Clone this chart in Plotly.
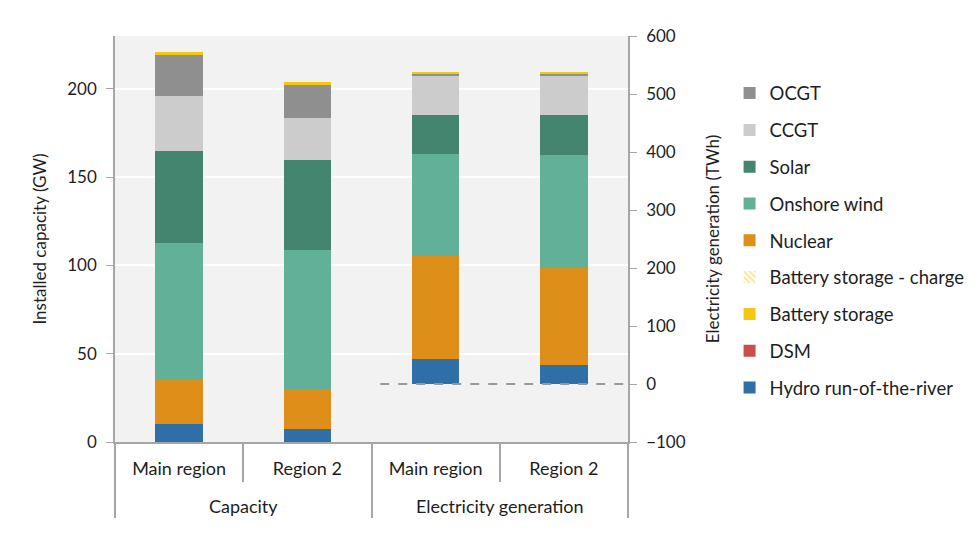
import plotly.graph_objects as go

regions = ["Main region", "Region 2"]
groups = ["Capacity", "Electricity generation"]

# stacking order (bottom to top)
stack_order = ["Hydro run-of-the-river", "DSM", "Nuclear", "Onshore wind",
               "Solar", "CCGT", "OCGT", "Battery storage"]
# legend order (top to bottom)
legend_order = ["OCGT", "CCGT", "Solar", "Onshore wind", "Nuclear",
                "Battery storage - charge", "Battery storage", "DSM",
                "Hydro run-of-the-river"]
colors = {
    "Hydro run-of-the-river": "#2e6fa7",
    "DSM": "#c9504a",
    "Battery storage": "#f2c811",
    "Battery storage - charge": "#f2c811",
    "Nuclear": "#de8f19",
    "Onshore wind": "#62b097",
    "Solar": "#43856f",
    "CCGT": "#cccccc",
    "OCGT": "#8f8f8f",
}

# Installed capacity (GW) per region
capacity_hydro = [10, 7.5]
capacity_dsm = [0, 0]
capacity_battery = [1.3, 1.5]
capacity_nuclear = [25, 22]
capacity_wind = [78, 79]
capacity_solar = [52, 51]
capacity_ccgt = [31, 24]
capacity_ocgt = [23.5, 19]

# Electricity generation (TWh) per region
generation_hydro = [43, 32]
generation_dsm = [0, 0]
generation_battery = [1.5, 1.5]
generation_battery_charge = [-1.5, -1.5]
generation_nuclear = [178, 168]
generation_wind = [176, 195]
generation_solar = [66, 68]
generation_ccgt = [68, 68]
generation_ocgt = [5, 5]

capacity = {
    "Hydro run-of-the-river": capacity_hydro, "DSM": capacity_dsm,
    "Battery storage": capacity_battery, "Nuclear": capacity_nuclear,
    "Onshore wind": capacity_wind, "Solar": capacity_solar,
    "CCGT": capacity_ccgt, "OCGT": capacity_ocgt,
}
generation = {
    "Hydro run-of-the-river": generation_hydro, "DSM": generation_dsm,
    "Battery storage": generation_battery, "Nuclear": generation_nuclear,
    "Onshore wind": generation_wind, "Solar": generation_solar,
    "CCGT": generation_ccgt, "OCGT": generation_ocgt,
}

FONT = "Lato"
TXT = "#1e1e1e"
BAR_W = 0.37

fig = go.Figure()
# the top-level group label sits on a second line (extra space below the region row)
x_cap = [["<br>" + groups[0]] * 2, regions]
x_gen = [["<br>" + groups[1]] * 2, regions]

for tech in stack_order:
    fig.add_trace(go.Bar(x=x_cap, y=capacity[tech], name=tech, width=BAR_W,
                         marker=dict(color=colors[tech], line=dict(width=0)),
                         showlegend=False, yaxis="y"))

for tech in stack_order:
    fig.add_trace(go.Bar(x=x_gen, y=generation[tech], name=tech, width=BAR_W,
                         marker=dict(color=colors[tech], line=dict(width=0)),
                         legendgroup=tech, legendrank=legend_order.index(tech) + 1,
                         showlegend=True, yaxis="y2"))

tech = "Battery storage - charge"
fig.add_trace(go.Bar(x=x_gen, y=generation_battery_charge, name=tech, width=BAR_W,
                     marker=dict(color="rgba(0,0,0,0)", line=dict(width=0),
                                 pattern=dict(shape="\\", fgcolor=colors[tech],
                                              bgcolor="rgba(255,255,255,0)",
                                              size=5, solidity=0.4)),
                     legendgroup=tech, legendrank=legend_order.index(tech) + 1,
                     showlegend=True, yaxis="y2"))

fig.add_shape(type="line", xref="paper", yref="y2", x0=0.517, x1=1, y0=0, y1=0,
              line=dict(color="#999999", width=2, dash="dash"), layer="above")

axis_grey = "#a6a6a6"
fig.update_layout(
    width=978, height=533,
    barmode="stack",
    paper_bgcolor="white",
    plot_bgcolor="#f2f2f2",
    margin=dict(l=107, r=358, t=28, b=99),
    font=dict(family=FONT, size=17, color=TXT),
    xaxis=dict(type="multicategory", showline=True, linecolor=axis_grey, linewidth=1.5,
               ticks="outside", ticklen=38, tickcolor=axis_grey, tickwidth=1.5,
               dividercolor=axis_grey, dividerwidth=1.5, ticklabelstandoff=10,
               tickfont=dict(family=FONT, size=18, color=TXT), showgrid=False),
    yaxis=dict(range=[0, 230], tickvals=[0, 50, 100, 150, 200], showline=True,
               linecolor=axis_grey, linewidth=1.5, ticks="outside", ticklen=7,
               tickcolor=axis_grey, showgrid=True, gridcolor="white", gridwidth=1.5,
               zeroline=False, ticklabelstandoff=6,
               title=dict(text="Installed capacity (GW)", standoff=16,
                          font=dict(family=FONT, size=17, color=TXT))),
    yaxis2=dict(range=[-100, 600], tickvals=[-100, 0, 100, 200, 300, 400, 500, 600],
                overlaying="y", side="right", showline=True, linecolor=axis_grey,
                linewidth=1.5, ticks="outside", ticklen=7, tickcolor=axis_grey,
                showgrid=False, zeroline=False, ticklabelstandoff=6,
                title=dict(text="Electricity generation (TWh)", standoff=22,
                           font=dict(family=FONT, size=17, color=TXT))),
    legend=dict(x=1.198, xanchor="left", y=0.905, yanchor="top",
                traceorder="grouped", tracegroupgap=9.75,
                font=dict(family=FONT, size=18.5, color=TXT),
                bgcolor="rgba(0,0,0,0)"),
)

fig.write_html("out.html")
